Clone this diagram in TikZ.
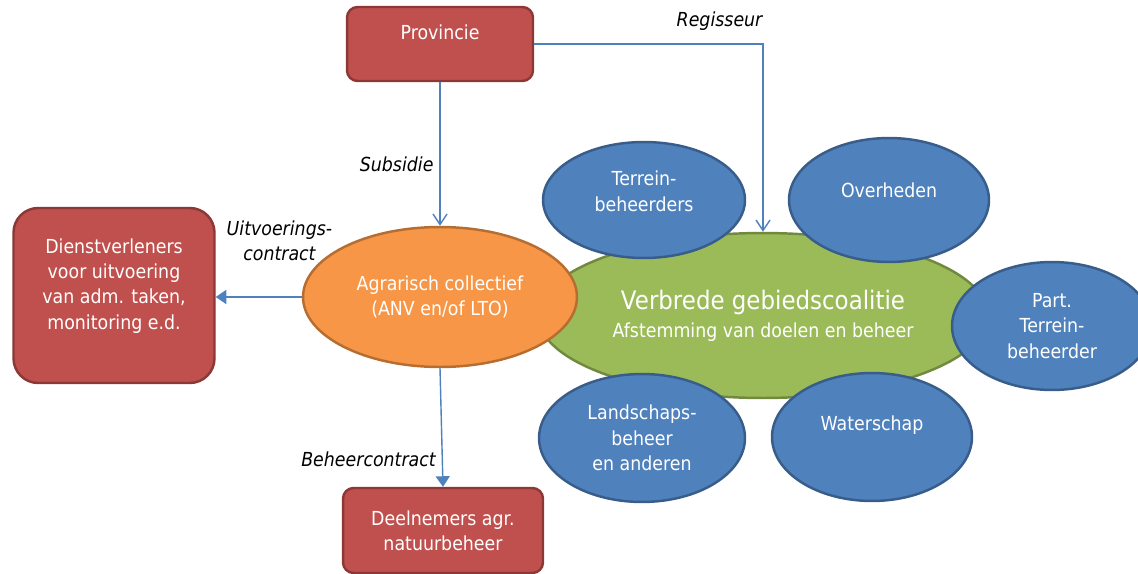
\documentclass[tikz,border=0pt]{standalone}
\usepackage{fontspec}
\setmainfont{DejaVu Sans}[FakeStretch=0.9]
\usetikzlibrary{shapes.geometric,arrows.meta}
\definecolor{boxred}{HTML}{C0504D}
\definecolor{boxredline}{HTML}{8C3836}
\definecolor{ellblue}{HTML}{4F81BD}
\definecolor{ellblueline}{HTML}{385D8A}
\definecolor{ellgreen}{HTML}{9BBB59}
\definecolor{ellgreenline}{HTML}{71893F}
\definecolor{ellorange}{HTML}{F79646}
\definecolor{ellorangeline}{HTML}{B66D31}
\definecolor{linkblue}{HTML}{4F81BD}

\begin{document}
\begin{tikzpicture}[x=0.02cm,y=-0.02cm,
    redbox/.style={draw=boxredline,fill=boxred,line width=1.4pt,rounded corners=6pt,
      text=white,align=center,inner sep=0pt,font=\fontsize{11}{14.4}\selectfont},
    blueell/.style={ellipse,draw=ellblueline,fill=ellblue,line width=1.4pt,
      text=white,align=center,inner sep=0pt,minimum width=4cm,minimum height=2.5cm,
      font=\fontsize{11}{14.5}\selectfont},
    link/.style={draw=linkblue,line width=0.8pt},
    lbl/.style={font=\fontsize{11}{14}\selectfont\itshape,align=center}]
  \useasboundingbox (0,0) rectangle (1138,574);
  % Boxes
  \node[redbox,minimum width=3.72cm,minimum height=1.48cm] (prov) at (440,44) {Provincie\\[-5.5pt]\strut};
  \node[redbox,minimum width=4.02cm,minimum height=3.5cm,rounded corners=14pt] (dienst) at (114,295.5)
    {Dienstverleners\\voor uitvoering\\van adm. taken,\\monitoring e.d.\\[-5.5pt]\strut};
  \node[redbox,minimum width=4cm,minimum height=1.7cm] (deeln) at (443,530.5) {Deelnemers agr.\\natuurbeheer};
  % Coalition
  \node[ellipse,draw=ellgreenline,fill=ellgreen,line width=1.4pt,text=white,align=center,
    inner sep=0pt,minimum width=9cm,minimum height=3.3cm] (coal) at (763,315.5)
    {{\fontsize{14.5}{17}\selectfont Verbrede gebiedscoalitie}\\[4pt]
     {\fontsize{11}{14}\selectfont Afstemming van doelen en beheer}};
  \node[blueell,minimum width=4.04cm,minimum height=2.32cm] (terr) at (644,200) {Terrein-\\beheerders\\[-9pt]\strut};
  \node[blueell,minimum width=4cm,minimum height=2.48cm] (overh) at (889,200) {Overheden\\[-8pt]\strut};
  \node[blueell,minimum width=4cm,minimum height=2.56cm] (part) at (1052,326) {Part.\\Terrein-\\beheerder};
  \node[blueell,minimum width=4.12cm,minimum height=2.56cm] (landsch) at (642,438) {Landschaps-\\beheer\\en anderen};
  \node[blueell,minimum width=4cm,minimum height=2.56cm] (water) at (872,437) {Waterschap\\[-3.4pt]\strut};
  % Collective
  \node[ellipse,draw=ellorangeline,fill=ellorange,line width=1.4pt,text=white,align=center,
    inner sep=0pt,minimum width=5.48cm,minimum height=2.8cm,font=\fontsize{11}{14.4}\selectfont]
    (agr) at (440,297) {Agrarisch collectief\\(ANV en/of LTO)};
  % Links
  \draw[link,-{Straight Barb[length=6pt,width=8pt]}] (prov.south) -- (agr.north)
    node[lbl,left,pos=0.575] {Subsidie};
  \draw[link,-{Straight Barb[length=6pt,width=8pt]}] (prov.east) -| (coal.north)
    node[lbl,above,pos=0.405,yshift=4pt] {Regisseur};
  \draw[link,-{Triangle[length=6pt,width=8pt]}] (agr.west) -- (agr.west -| dienst.east)
    node[lbl,above,pos=0.26,yshift=17pt] {Uitvoerings-\\contract};
  \draw[link,-{Triangle[length=6pt,width=8pt]}] (agr.south) -- (deeln.north)
    node[lbl,left,pos=0.77] {Beheercontract};
\end{tikzpicture}
\end{document}
